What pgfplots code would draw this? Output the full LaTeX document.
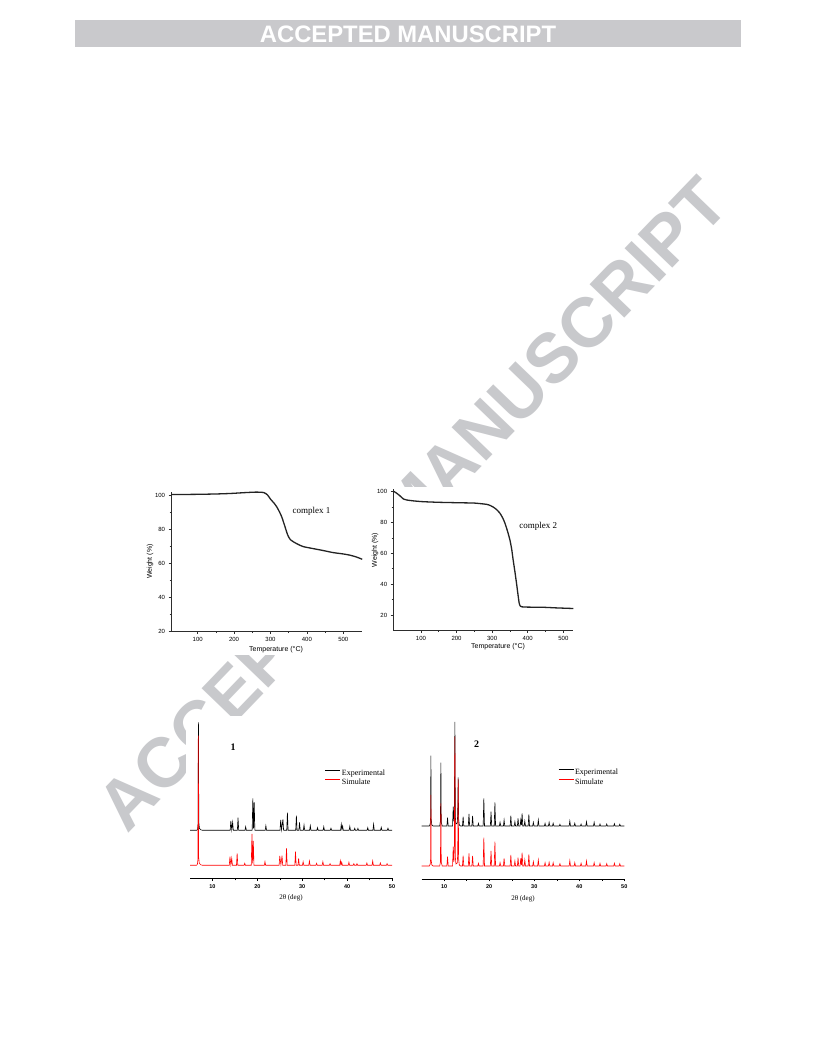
\documentclass[border=0pt]{standalone}
\usepackage{fontspec}
\setmainfont{Liberation Serif}
\newfontfamily\arial{Liberation Sans}
\usepackage{pgfplots}
\pgfplotsset{compat=1.18}

\definecolor{wmark}{RGB}{200,201,204}
\definecolor{headbar}{RGB}{201,201,204}
\definecolor{curve}{RGB}{35,35,35}
\definecolor{axisgray}{RGB}{45,45,45}

\pgfplotsset{
  tga/.style={
    scale only axis, axis lines=left,
    axis line style={-, axisgray, line width=0.7pt},
    enlargelimits=false, clip=false,
    tick align=outside, tick style={axisgray, line width=0.6pt},
    major tick length=2.5pt, minor tick length=1.5pt,
    xtick={100,200,...,500}, ytick={20,40,...,100},
    minor x tick num=1, minor y tick num=1,
    ticklabel style={font=\arial\fontsize{6}{6.5}\selectfont, text=black},
    xticklabel style={yshift=0.6pt},
    /pgf/number format/assume math mode=true,
  },
  pxrd/.style={
    scale only axis, width=202pt, height=160pt,
    xmin=5, xmax=50, ymin=0, ymax=160,
    axis x line=bottom, axis y line=none, ytick=\empty,
    axis line style={-, black, line width=0.6pt},
    xtick={10,20,...,50}, minor x tick num=1,
    tick align=outside, tick style={black, line width=0.5pt},
    major tick length=2.5pt, minor tick length=2pt,
    ticklabel style={font=\arial\bfseries\fontsize{5.5}{6}\selectfont},
    /pgf/number format/assume math mode=true,
    clip mode=individual,
    legend cell align=left,
    legend image code/.code={\draw[#1] (0pt,2.6pt) -- (15pt,2.6pt);},
    legend style={draw=none, fill=none, inner sep=0pt, row sep=0pt,
      font=\fontsize{8}{9}\selectfont,
      nodes={inner xsep=1.2pt, inner ysep=0.5pt, text height=6.5pt, text depth=2pt}},
  },
}

\begin{document}
\begin{tikzpicture}[x=1pt,y=1pt]
% page
\fill[white] (0,0) rectangle (816,1056);

% running header
\fill[headbar] (75,1009) rectangle (741,1036);
\node[text=white, font=\arial\bfseries\fontsize{23.8}{24}\selectfont, inner sep=0pt]
  at (408,1022) {ACCEPTED MANUSCRIPT};

% diagonal watermark (behind the figures)
\node[text=wmark, font=\arial\bfseries\fontsize{70}{70}\selectfont, inner sep=0pt, rotate=46.1]
  at (412.6,552) {ACCEPTED MANUSCRIPT};

% figure panels
\fill[white] (138,401) rectangle (370,572);
\fill[white] (370,401) rectangle (592,569);
\fill[white] (186,150) rectangle (632,340);

% ---------------- TGA, complex 1 ----------------
\begin{axis}[tga, at={(171.1pt,424.3pt)}, anchor=south west,
  width=191.1pt, height=140.1pt,
  xmin=27, xmax=552, ymin=20, ymax=102]
\addplot[curve, line width=1.3pt, smooth, tension=0.4] coordinates {
  (27,100.3) (50,100.3) (100,100.4) (150,100.6) (190,100.9) (230,101.4)
  (262,101.7) (282,101.4) (292,100.0) (300,97.6) (310,95.2) (318,92.8)
  (325,90.0) (331,87.2) (336,84.0) (340,81.4) (345,78.0) (349,75.8)
  (355,73.8) (363,72.6) (375,71.2) (390,69.8) (418,68.6) (445,67.5)
  (472,66.3) (500,65.5) (518,64.8) (535,63.8) (552,62.4)
};
\node[font=\fontsize{9}{10}\selectfont] at (axis cs:413,90.2) {complex 1};
\node[font=\arial\fontsize{7}{8}\selectfont, rotate=90] at (rel axis cs:-0.110,0.5) {Weight (\%)};
\node[font=\arial\fontsize{7}{8}\selectfont] at (rel axis cs:0.549,-0.128) {Temperature (°C)};
\end{axis}

% ---------------- TGA, complex 2 ----------------
\begin{axis}[tga, at={(393.2pt,425.6pt)}, anchor=south west,
  width=180.1pt, height=141.8pt,
  xmin=22, xmax=528, ymin=10, ymax=102]
\addplot[curve, line width=1.3pt, smooth, tension=0.35] coordinates {
  (22,100.4) (30,99.3) (40,97.5) (51,95.2) (60,94.6) (80,94.0) (106,93.5)
  (150,93.1) (209,92.8) (250,92.6) (284,91.8) (295,91.0) (303,90.0)
  (312,88.5) (322,86.0) (330,82.8) (336,79.5) (343,74.5) (350,68.6)
  (355,62.5) (359,55.7) (364,48.0) (368.5,40.5) (373,32.5) (376,27.6)
  (379,25.8) (383,25.3) (400,25.1) (443,25.0) (480,24.6) (528,24.2)
};
\node[font=\fontsize{9}{10}\selectfont] at (axis cs:429.7,77.3) {complex 2};
\node[font=\arial\fontsize{7}{8}\selectfont, rotate=90] at (rel axis cs:-0.101,0.567) {Weight (\%)};
\node[font=\arial\fontsize{7}{8}\selectfont] at (rel axis cs:0.582,-0.118) {Temperature (°C)};
\end{axis}

% ---------------- PXRD, 1 ----------------
\begin{axis}[pxrd, at={(190pt,177.7pt)}, anchor=south west,
  legend style={at={(0.668,0.69)}, anchor=north west}]
\addplot[black, line width=0.6pt] coordinates {
  (5,48) (6.5,48) (6.7,49) (6.8,54) (6.88,156) (6.96,56) (7.1,50) (7.4,48.5) (7.8,48)
  (13.95,48) (14.1,57.3) (14.3,48.5) (14.5,56) (14.65,48)
  (15.55,48) (15.7,60.6) (15.85,48)
  (17.25,48) (17.4,51.6) (17.55,48)
  (18.85,48) (19.0,80) (19.15,50) (19.3,76) (19.45,48)
  (21.75,48) (21.9,52.6) (22.05,48)
  (25.05,48) (25.2,58.3) (25.4,48.5) (25.7,59) (25.85,48)
  (26.55,48) (26.7,65.6) (26.85,48)
  (28.55,48) (28.7,62.6) (28.85,48)
  (29.25,48) (29.4,56) (29.55,48)
  (30.25,48) (30.4,53.3) (30.55,48)
  (31.65,48) (31.8,52.6) (31.95,48)
  (33.25,48) (33.4,50.6) (33.55,48)
  (34.65,48) (34.8,51.6) (34.95,48)
  (36.25,48) (36.4,50) (36.55,48)
  (38.55,48) (38.7,54) (38.85,49) (39.0,52.3) (39.15,48)
  (40.45,48) (40.6,52) (40.75,48)
  (41.55,48) (41.7,50) (41.85,48)
  (42.25,48) (42.4,50) (42.55,48)
  (44.45,48) (44.6,50.6) (44.75,48)
  (45.75,48) (45.9,54) (46.05,48)
  (47.45,48) (47.6,51) (47.75,48)
  (48.95,48) (49.1,50) (49.25,48)
  (50,48)
};
\addlegendentry{Experimental}
\addplot[red, line width=0.6pt] coordinates {
  (5,13) (6.45,13) (6.65,14) (6.77,19) (6.85,142.6) (6.93,21) (7.07,15) (7.4,13.5) (7.8,13)
  (13.75,13) (13.9,21.6) (14.1,13.5) (14.3,20) (14.45,13)
  (15.35,13) (15.5,25) (15.65,13)
  (17.05,13) (17.2,15) (17.35,13)
  (18.65,13) (18.8,44.3) (18.95,15) (19.1,37.3) (19.25,13)
  (21.55,13) (21.7,16.6) (21.85,13)
  (24.85,13) (25.0,22.3) (25.25,13.5) (25.5,22.6) (25.65,13)
  (26.35,13) (26.5,30) (26.65,13)
  (28.35,13) (28.5,26.6) (28.65,13)
  (29.05,13) (29.2,20) (29.35,13)
  (30.05,13) (30.2,16.6) (30.35,13)
  (31.45,13) (31.6,17.3) (31.75,13)
  (33.05,13) (33.2,15) (33.35,13)
  (34.45,13) (34.6,16.6) (34.75,13)
  (36.05,13) (36.2,14.6) (36.35,13)
  (38.35,13) (38.5,17.6) (38.65,13.5) (38.8,16) (38.95,13)
  (40.25,13) (40.4,16) (40.55,13)
  (41.35,13) (41.5,14.6) (41.65,13)
  (42.05,13) (42.2,14.6) (42.35,13)
  (44.25,13) (44.4,15.3) (44.55,13)
  (45.55,13) (45.7,17.3) (45.85,13)
  (47.25,13) (47.4,15.3) (47.55,13)
  (48.75,13) (48.9,14.6) (49.05,13)
  (50,13)
};
\addlegendentry{Simulate}
\node[font=\bfseries\fontsize{10}{11}\selectfont] at (rel axis cs:0.213,0.82) {1};
\node[font=\fontsize{7}{8}\selectfont] at (rel axis cs:0.5,-0.125) {2θ (deg)};
\end{axis}

% ---------------- PXRD, 2 ----------------
\begin{axis}[pxrd, at={(421.7pt,177pt)}, anchor=south west, width=202.6pt,
  legend style={at={(0.673,0.698)}, anchor=north west}]
\addplot[black, line width=0.6pt] coordinates {
  (5,53) (6.7,53) (6.9,55) (6.98,62) (7.04,123.3) (7.1,60) (7.25,54) (7.5,53)
  (9.0,53) (9.16,58) (9.26,116.3) (9.34,57) (9.55,53)
  (10.59,53) (10.74,61.3) (10.89,53)
  (11.85,53) (12.0,72.3) (12.15,58) (12.25,70) (12.37,157) (12.47,62) (12.6,55)
  (12.9,56) (13.0,65) (13.1,101.7) (13.2,60) (13.35,54) (13.6,53)
  (14.05,53) (14.2,62.3) (14.35,53)
  (15.35,53) (15.5,65) (15.65,53)
  (16.15,53) (16.3,63) (16.45,53)
  (17.45,53) (17.6,55.7) (17.75,53)
  (18.65,53) (18.8,80.7) (18.95,53)
  (20.25,53) (20.4,67.3) (20.55,53)
  (21.11,53) (21.26,76.7) (21.41,53)
  (22.25,53) (22.4,56.7) (22.55,53)
  (23.15,53) (23.3,59) (23.45,53)
  (24.65,53) (24.8,63.3) (24.95,53)
  (25.55,53) (25.7,57.3) (25.85,53)
  (26.25,53) (26.4,60.7) (26.55,53)
  (26.85,53) (27.0,59) (27.15,54) (27.3,65.7) (27.45,53)
  (27.75,53) (27.9,58) (28.05,53)
  (28.65,53) (28.8,64.7) (28.95,53)
  (29.65,53) (29.8,56.7) (29.95,53)
  (30.75,53) (30.9,59) (31.05,53)
  (32.25,53) (32.4,55.7) (32.55,53)
  (33.15,53) (33.3,56.7) (33.45,53)
  (34.05,53) (34.2,55.7) (34.35,53)
  (35.55,53) (35.7,54.7) (35.85,53)
  (37.75,53) (37.9,58) (38.05,53)
  (38.85,53) (39.0,55.7) (39.15,53)
  (40.25,53) (40.4,55) (40.55,53)
  (41.45,53) (41.6,57.3) (41.75,53)
  (43.15,53) (43.3,56.7) (43.45,53)
  (44.45,53) (44.6,55) (44.75,53)
  (45.95,53) (46.1,55) (46.25,53)
  (47.65,53) (47.8,55.3) (47.95,53)
  (48.85,53) (49.0,54.7) (49.15,53)
  (50,53)
};
\addlegendentry{Experimental}
\addplot[red, line width=0.6pt] coordinates {
  (5,13) (6.7,13) (6.9,15) (6.98,20) (7.04,84) (7.1,19) (7.25,14) (7.5,13)
  (9.0,13) (9.16,17) (9.26,75.7) (9.34,17) (9.55,13)
  (10.59,13) (10.74,22.3) (10.89,13)
  (11.85,13) (12.0,32.3) (12.15,17) (12.25,30) (12.37,142.3) (12.47,22) (12.6,15)
  (12.9,16) (13.0,25) (13.1,100) (13.2,20) (13.35,14) (13.6,13)
  (14.05,13) (14.2,23.3) (14.35,13)
  (15.35,13) (15.5,25.7) (15.65,13)
  (16.15,13) (16.3,23) (16.45,13)
  (17.45,13) (17.6,15.7) (17.75,13)
  (18.65,13) (18.8,41.3) (18.95,13)
  (20.25,13) (20.4,28) (20.55,13)
  (21.11,13) (21.26,37.3) (21.41,13)
  (22.25,13) (22.4,16.3) (22.55,13)
  (23.15,13) (23.3,20.7) (23.45,13)
  (24.65,13) (24.8,24) (24.95,13)
  (25.55,13) (25.7,18) (25.85,13)
  (26.25,13) (26.4,21.3) (26.55,13)
  (26.85,13) (27.0,20.7) (27.15,14) (27.3,26.3) (27.45,13)
  (27.75,13) (27.9,19) (28.05,13)
  (28.65,13) (28.8,24.7) (28.95,13)
  (29.65,13) (29.8,17.3) (29.95,13)
  (30.75,13) (30.9,19) (31.05,13)
  (32.25,13) (32.4,16.3) (32.55,13)
  (33.15,13) (33.3,16.7) (33.45,13)
  (34.05,13) (34.2,16.3) (34.35,13)
  (35.55,13) (35.7,15.3) (35.85,13)
  (37.75,13) (37.9,18.3) (38.05,13)
  (38.85,13) (39.0,16.3) (39.15,13)
  (40.25,13) (40.4,15.7) (40.55,13)
  (41.45,13) (41.6,18) (41.75,13)
  (43.15,13) (43.3,16.3) (43.45,13)
  (44.45,13) (44.6,15.7) (44.75,13)
  (45.95,13) (46.1,15.3) (46.25,13)
  (47.65,13) (47.8,15.7) (47.95,13)
  (48.85,13) (49.0,15.3) (49.15,13)
  (50,13)
};
\addlegendentry{Simulate}
\node[font=\bfseries\fontsize{10}{11}\selectfont] at (rel axis cs:0.271,0.842) {2};
\node[font=\fontsize{7}{8}\selectfont] at (rel axis cs:0.5,-0.121) {2θ (deg)};
\end{axis}
\end{tikzpicture}
\end{document}
